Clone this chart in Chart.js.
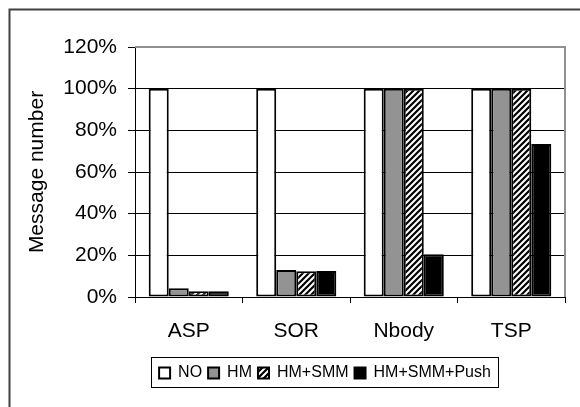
<!DOCTYPE html>
<html>
<head>
<meta charset="utf-8">
<script src="https://cdn.jsdelivr.net/npm/chart.js@4"></script>
<style>
  html, body { margin: 0; padding: 0; background: #fff; }
  #wrap { width: 580px; height: 407px; position: relative; }
</style>
</head>
<body>
<div id="wrap"><canvas id="msg-chart" width="580" height="407"></canvas></div>
<script>
// data
var categories = ['ASP', 'SOR', 'Nbody', 'TSP'];
var seriesNames = ['NO', 'HM', 'HM+SMM', 'HM+SMM+Push'];
var noValues = [100, 100, 100, 100];
var hmValues = [4.2, 13, 100, 100];
var smmValues = [2.8, 12.4, 100, 100];
var pushValues = [2.8, 12.5, 20.5, 73.4];
var yTicks = [0, 20, 40, 60, 80, 100, 120];

// hatch for HM+SMM
function makeHatch() {
    var c = document.createElement('canvas');
    c.width = 6; c.height = 6;
    var g = c.getContext('2d');
    g.fillStyle = '#fff';
    g.fillRect(0, 0, 6, 6);
    g.strokeStyle = '#000';
    g.lineWidth = 2.2;
    g.beginPath();
    g.moveTo(-1, 7); g.lineTo(7, -1);
    g.moveTo(-4, 4); g.lineTo(4, -4);
    g.moveTo(2, 10); g.lineTo(10, 2);
    g.stroke();
    return g.createPattern(c, 'repeat');
}

Chart.defaults.font.family = '"Liberation Sans", Arial, sans-serif';
Chart.defaults.color = '#000';

var frame = {
    id: 'frame',
    afterLayout: function (chart) {
        // legend sits under the plot, not centred on the canvas
        var lg = chart.legend;
        var shift = 325 - (lg.left + lg.right) / 2;
        lg.left += shift;
        lg.right += shift;
    },
    beforeDraw: function (chart) {
        var ctx = chart.ctx;
        ctx.save();
        ctx.fillStyle = '#fff';
        ctx.fillRect(0, 0, chart.width, chart.height);
        // outer chart border (only left/top inside the picture)
        ctx.strokeStyle = '#404040';
        ctx.lineWidth = 2;
        ctx.beginPath();
        ctx.moveTo(9.5, chart.height + 5);
        ctx.lineTo(9.5, 9.5);
        ctx.lineTo(chart.width + 5, 9.5);
        ctx.stroke();
        ctx.restore();
    },
    afterDatasetsDraw: function (chart) {
        var a = chart.chartArea;
        var ctx = chart.ctx;
        ctx.save();
        ctx.strokeStyle = '#909090';
        ctx.lineWidth = 2;
        ctx.beginPath();
        ctx.moveTo(a.left, a.top);
        ctx.lineTo(a.right, a.top);
        ctx.lineTo(a.right, a.bottom);
        ctx.stroke();
        ctx.restore();
    },
    afterDraw: function (chart) {
        var boxes = chart.legend.legendHitBoxes;
        if (!boxes || !boxes.length) return;
        var first = boxes[0], last = boxes[boxes.length - 1];
        var ctx = chart.ctx;
        var midY = first.top + first.height / 2;
        ctx.save();
        ctx.strokeStyle = '#000';
        ctx.lineWidth = 1;
        ctx.strokeRect(Math.round(first.left) - 7.5, Math.round(midY) - 15.5,
            Math.round(last.left + last.width - first.left) + 15, 30);
        ctx.restore();
    }
};

var ctx = document.getElementById('msg-chart');

var chart = new Chart(ctx, {
    type: 'bar',
    data: {
        labels: categories,
        datasets: [{
            label: seriesNames[0],
            data: noValues,
            backgroundColor: '#ffffff'
        }, {
            label: seriesNames[1],
            data: hmValues,
            backgroundColor: '#939393'
        }, {
            label: seriesNames[2],
            data: smmValues,
            backgroundColor: makeHatch()
        }, {
            label: seriesNames[3],
            data: pushValues,
            backgroundColor: '#000000'
        }]
    },
    options: {
        responsive: false,
        animation: false,
        layout: { padding: { left: 0, right: 15, top: 47, bottom: 16 } },
        datasets: {
            bar: {
                borderColor: '#000',
                borderWidth: 2,
                borderSkipped: false,
                barPercentage: 1,
                categoryPercentage: 0.745
            }
        },
        plugins: {
            tooltip: { enabled: false },
            legend: {
                position: 'bottom',
                labels: {
                    boxWidth: 11,
                    boxHeight: 11,
                    padding: 6,
                    font: { size: 16 },
                    color: '#000'
                }
            }
        },
        scales: {
            x: {
                grid: {
                    drawOnChartArea: false,
                    drawTicks: true,
                    tickLength: 6,
                    tickColor: '#000'
                },
                border: { color: '#000', width: 1 },
                ticks: { padding: 16, font: { size: 21 } },
                afterFit: function (scale) { scale.height = 62; }
            },
            y: {
                min: 0,
                max: 120,
                afterBuildTicks: function (scale) {
                    scale.ticks = yTicks.map(function (v) { return { value: v }; });
                },
                grid: {
                    color: '#000',
                    lineWidth: 1,
                    tickLength: 7,
                    tickColor: '#000'
                },
                border: { color: '#000', width: 1 },
                ticks: {
                    padding: 11,
                    font: { size: 21 },
                    callback: function (v) { return v + '%'; }
                },
                title: {
                    display: true,
                    text: 'Message number',
                    font: { size: 21 },
                    padding: { top: 25, bottom: 0 }
                },
                afterFit: function (scale) { scale.width = 135; }
            }
        }
    },
    plugins: [frame]
});
</script>
</body>
</html>
